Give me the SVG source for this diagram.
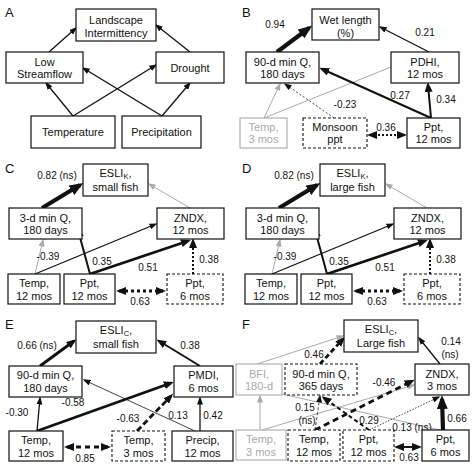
<svg xmlns="http://www.w3.org/2000/svg" width="474" height="468" viewBox="0 0 474 468">
<style>
text{font-family:"Liberation Sans",Arial,sans-serif;fill:#111}
.n{font-size:11px;text-anchor:middle}
.l{font-size:10px;text-anchor:middle}
.p{font-size:13px}
.sub{font-size:7.5px}
.b{fill:#fff;stroke:#111;stroke-width:1.2}
.bd{fill:#fff;stroke:#111;stroke-width:1.1;stroke-dasharray:3 2}
.bg{fill:#fff;stroke:#aaa;stroke-width:1.1}
.g text,text.g{fill:#aaa}
.c{fill:none;stroke:#111;stroke-width:1.3}
.c1{stroke-width:0.8}
.c2{stroke-width:2}
.c3{stroke-width:2.8}
.c4{stroke-width:4.2}
.cg{fill:none;stroke:#aaa;stroke-width:1}
.dot{stroke-dasharray:2 2}
.s{marker-end:url(#s)}
.m{marker-end:url(#m)}
.L{marker-end:url(#L)}
.gs{marker-end:url(#gs)}
</style>
<defs>
<marker id="s" viewBox="0 0 8 6" refX="6.5" refY="3" markerWidth="8" markerHeight="6" markerUnits="userSpaceOnUse" orient="auto-start-reverse"><path d="M0,0L8,3L0,6z" fill="#111"/></marker>
<marker id="m" viewBox="0 0 10 8" refX="7" refY="4" markerWidth="10" markerHeight="8" markerUnits="userSpaceOnUse" orient="auto-start-reverse"><path d="M0,0L10,4L0,8z" fill="#111"/></marker>
<marker id="L" viewBox="0 0 14 11" refX="10" refY="5.5" markerWidth="14" markerHeight="11" markerUnits="userSpaceOnUse" orient="auto-start-reverse"><path d="M0,0L14,5.5L0,11z" fill="#111"/></marker>
<marker id="gs" viewBox="0 0 8 6" refX="6.5" refY="3" markerWidth="8" markerHeight="6" markerUnits="userSpaceOnUse" orient="auto-start-reverse"><path d="M0,0L8,3L0,6z" fill="#aaa"/></marker>
</defs>
<rect width="474" height="468" fill="#fff"/>

<!-- Panel A -->
<g id="panelA">
<text class="p" x="5" y="17">A</text>
<g id="connectorsA">
<line class="c s" x1="49" y1="52" x2="76" y2="28"/>
<line class="c s" x1="190" y1="52" x2="156" y2="25"/>
<line class="c s" x1="73" y1="116" x2="46" y2="83"/>
<line class="c s" x1="73" y1="116" x2="156" y2="65"/>
<line class="c s" x1="162" y1="116" x2="83" y2="68"/>
<line class="c s" x1="162" y1="116" x2="190" y2="83"/>
</g>
<g id="A-landscape"><rect class="b" x="76" y="9" width="80" height="32"/><text class="n" x="116" y="24">Landscape</text><text class="n" x="116" y="37">Intermittency</text></g>
<g id="A-lowflow"><rect class="b" x="6" y="52" width="77" height="31"/><text class="n" x="44.5" y="66">Low</text><text class="n" x="44.5" y="78">Streamflow</text></g>
<g id="A-drought"><rect class="b" x="156" y="52" width="68" height="31"/><text class="n" x="190" y="72">Drought</text></g>
<g id="A-temp"><rect class="b" x="31" y="116" width="84" height="32"/><text class="n" x="73" y="136">Temperature</text></g>
<g id="A-precip"><rect class="b" x="122" y="116" width="79" height="32"/><text class="n" x="161.5" y="136">Precipitation</text></g>
</g>

<!-- Panel B -->
<g id="panelB">
<text class="p" x="242" y="17">B</text>
<g id="connectorsB">
<line class="c c4 L" x1="277" y1="52" x2="309" y2="28"/>
<line class="c s" x1="429" y1="52" x2="380" y2="27"/>
<line class="cg" x1="264" y1="118" x2="391" y2="67"/>
<line class="cg gs" x1="264" y1="118" x2="280" y2="84"/>
<line class="c c1 dot s" x1="334" y1="118" x2="285" y2="84"/>
<line class="c c2 m" x1="431" y1="118" x2="322" y2="69"/>
<line class="c c2 m" x1="431" y1="118" x2="428" y2="85"/>
<line class="c c2 dot m" x1="370" y1="135" x2="404" y2="135" style="marker-start:url(#m)"/>
<text class="l" x="275" y="28">0.94</text>
<text class="l" x="425" y="36">0.21</text>
<text class="l" x="345" y="108">-0.23</text>
<text class="l" x="400" y="99">0.27</text>
<text class="l" x="446" y="103">0.34</text>
<text class="l" x="386" y="131">0.36</text>
</g>
<g id="B-wet"><rect class="b" x="312" y="9" width="67" height="31"/><text class="n" x="345.5" y="24">Wet length</text><text class="n" x="345.5" y="37">(%)</text></g>
<g id="B-q90"><rect class="b" x="246" y="52" width="73" height="31"/><text class="n" x="282.5" y="66">90-d min Q,</text><text class="n" x="282.5" y="78">180 days</text></g>
<g id="B-pdhi"><rect class="b" x="391" y="52" width="68" height="31"/><text class="n" x="425" y="66">PDHI,</text><text class="n" x="425" y="78">12 mos</text></g>
<g id="B-temp3" class="g"><rect class="bg" x="240" y="118" width="47" height="30"/><text class="n" x="263.5" y="131">Temp,</text><text class="n" x="263.5" y="143">3 mos</text></g>
<g id="B-monsoon"><rect class="bd" x="303" y="118" width="64" height="30"/><text class="n" x="335" y="131">Monsoon</text><text class="n" x="335" y="143">ppt</text></g>
<g id="B-ppt12"><rect class="b" x="407" y="118" width="53" height="30"/><text class="n" x="433.5" y="131">Ppt,</text><text class="n" x="433.5" y="143">12 mos</text></g>
</g>

<!-- Panel C -->
<g id="panelC">
<text class="p" x="5" y="173">C</text>
<g id="connectorsC">
<line class="c c4 L" x1="42" y1="208" x2="80" y2="185"/>
<line class="cg gs" x1="190" y1="208" x2="149" y2="184"/>
<line class="cg gs" x1="35" y1="274" x2="43" y2="240"/>
<line class="c s" x1="35" y1="274" x2="156" y2="224"/>
<line class="c c2 m" x1="90" y1="274" x2="78" y2="230"/>
<line class="c c3 m" x1="90" y1="274" x2="188" y2="241"/>
<line class="c c2 dot m" x1="193" y1="274" x2="193" y2="241"/>
<line class="c c3 m" x1="119" y1="291" x2="163" y2="291" style="stroke-dasharray:3 3;marker-start:url(#m)"/>
<text class="l" x="57" y="179">0.82 (ns)</text>
<text class="l" x="48" y="260">-0.39</text>
<text class="l" x="102" y="265">0.35</text>
<text class="l" x="148" y="271">0.51</text>
<text class="l" x="209" y="263">0.38</text>
<text class="l" x="140" y="305">0.63</text>
</g>
<g id="C-esli"><rect class="b" x="83" y="164" width="65" height="32"/><text class="n" x="115.5" y="177">ESLI<tspan class="sub" dy="2">K</tspan><tspan dy="-2">,</tspan></text><text class="n" x="115.5" y="191">small fish</text></g>
<g id="C-q3"><rect class="b" x="9" y="208" width="73" height="31"/><text class="n" x="45.5" y="222">3-d min Q,</text><text class="n" x="45.5" y="234">180 days</text></g>
<g id="C-zndx"><rect class="b" x="157" y="208" width="67" height="31"/><text class="n" x="190.5" y="222">ZNDX,</text><text class="n" x="190.5" y="234">12 mos</text></g>
<g id="C-temp12"><rect class="b" x="8" y="274" width="52" height="30"/><text class="n" x="34" y="287">Temp,</text><text class="n" x="34" y="300">12 mos</text></g>
<g id="C-ppt12"><rect class="b" x="64" y="274" width="51" height="30"/><text class="n" x="89.5" y="287">Ppt,</text><text class="n" x="89.5" y="300">12 mos</text></g>
<g id="C-ppt6"><rect class="bd" x="167" y="274" width="56" height="30"/><text class="n" x="195" y="287">Ppt,</text><text class="n" x="195" y="300">6 mos</text></g>
</g>

<!-- Panel D -->
<g id="panelD" transform="translate(237,0)">
<text class="p" x="5" y="173">D</text>
<g id="connectorsD">
<line class="c c4 L" x1="42" y1="208" x2="80" y2="185"/>
<line class="cg gs" x1="190" y1="208" x2="149" y2="184"/>
<line class="cg gs" x1="35" y1="274" x2="43" y2="240"/>
<line class="c s" x1="35" y1="274" x2="156" y2="224"/>
<line class="c c2 m" x1="90" y1="274" x2="78" y2="230"/>
<line class="c c3 m" x1="90" y1="274" x2="188" y2="241"/>
<line class="c c2 dot m" x1="193" y1="274" x2="193" y2="241"/>
<line class="c c3 m" x1="119" y1="291" x2="163" y2="291" style="stroke-dasharray:3 3;marker-start:url(#m)"/>
<text class="l" x="57" y="179">0.82 (ns)</text>
<text class="l" x="48" y="260">-0.39</text>
<text class="l" x="102" y="265">0.35</text>
<text class="l" x="148" y="271">0.51</text>
<text class="l" x="209" y="263">0.38</text>
<text class="l" x="140" y="305">0.63</text>
</g>
<g id="D-esli"><rect class="b" x="83" y="164" width="65" height="32"/><text class="n" x="115.5" y="177">ESLI<tspan class="sub" dy="2">K</tspan><tspan dy="-2">,</tspan></text><text class="n" x="115.5" y="191">large fish</text></g>
<g id="D-q3"><rect class="b" x="9" y="208" width="73" height="31"/><text class="n" x="45.5" y="222">3-d min Q,</text><text class="n" x="45.5" y="234">180 days</text></g>
<g id="D-zndx"><rect class="b" x="157" y="208" width="67" height="31"/><text class="n" x="190.5" y="222">ZNDX,</text><text class="n" x="190.5" y="234">12 mos</text></g>
<g id="D-temp12"><rect class="b" x="8" y="274" width="52" height="30"/><text class="n" x="34" y="287">Temp,</text><text class="n" x="34" y="300">12 mos</text></g>
<g id="D-ppt12"><rect class="b" x="64" y="274" width="51" height="30"/><text class="n" x="89.5" y="287">Ppt,</text><text class="n" x="89.5" y="300">12 mos</text></g>
<g id="D-ppt6"><rect class="bd" x="167" y="274" width="56" height="30"/><text class="n" x="195" y="287">Ppt,</text><text class="n" x="195" y="300">6 mos</text></g>
</g>

<!-- Panel E -->
<g id="panelE">
<text class="p" x="5" y="329">E</text>
<g id="connectorsE">
<line class="c c3 m" x1="40" y1="366" x2="74" y2="341"/>
<line class="c c2 m" x1="200" y1="366" x2="159" y2="341"/>
<line class="c s" x1="37" y1="431" x2="40" y2="398"/>
<line class="c c3 m" x1="37" y1="431" x2="171" y2="383"/>
<line class="c c3 m" x1="137" y1="431" x2="171" y2="396" style="stroke-dasharray:6 3"/>
<line class="c c1 s" x1="195" y1="431" x2="84" y2="380"/>
<line class="c s" x1="200" y1="431" x2="200" y2="398"/>
<line class="c c3 m" x1="67" y1="447" x2="108" y2="447" style="stroke-dasharray:5 4;marker-start:url(#m)"/>
<text class="l" x="37" y="349">0.66 (ns)</text>
<text class="l" x="190" y="349">0.38</text>
<text class="l" x="17" y="416">-0.30</text>
<text class="l" x="73" y="406">-0.58</text>
<text class="l" x="128" y="422">-0.63</text>
<text class="l" x="178" y="419">0.13</text>
<text class="l" x="213" y="419">0.42</text>
<text class="l" x="85" y="462">0.85</text>
</g>
<g id="E-esli"><rect class="b" x="76" y="321" width="80" height="32"/><text class="n" x="116" y="334">ESLI<tspan class="sub" dy="2">C</tspan><tspan dy="-2">,</tspan></text><text class="n" x="116" y="348">small fish</text></g>
<g id="E-q90"><rect class="b" x="9" y="366" width="73" height="31"/><text class="n" x="45.5" y="379">90-d min Q,</text><text class="n" x="45.5" y="392">180 days</text></g>
<g id="E-pmdi"><rect class="b" x="174" y="366" width="59" height="31"/><text class="n" x="203.5" y="379">PMDI,</text><text class="n" x="203.5" y="392">6 mos</text></g>
<g id="E-temp12"><rect class="b" x="9" y="431" width="54" height="30"/><text class="n" x="36" y="444">Temp,</text><text class="n" x="36" y="457">12 mos</text></g>
<g id="E-temp3"><rect class="bd" x="112" y="431" width="53" height="30"/><text class="n" x="138.5" y="444">Temp,</text><text class="n" x="138.5" y="457">3 mos</text></g>
<g id="E-precip12"><rect class="b" x="172" y="431" width="61" height="30"/><text class="n" x="202.5" y="444">Precip,</text><text class="n" x="202.5" y="457">12 mos</text></g>
</g>

<!-- Panel F -->
<g id="panelF">
<text class="p" x="242" y="329">F</text>
<g id="connectorsF">
<line class="cg gs" x1="257" y1="364" x2="343" y2="336"/>
<line class="cg gs" x1="260" y1="430" x2="260" y2="396"/>
<line class="cg gs" x1="262" y1="430" x2="414" y2="385"/>
<line class="cg" x1="440" y1="430" x2="282" y2="394"/>
<line class="c c3 m" x1="320" y1="364" x2="343" y2="339" style="stroke-dasharray:5 3"/>
<line class="c s" x1="440" y1="364" x2="419" y2="338"/>
<line class="c c3 m" x1="315" y1="430" x2="412" y2="381" style="stroke-dasharray:6 4"/>
<line class="c c1 s" x1="315" y1="430" x2="320" y2="396" style="stroke-dasharray:3 2"/>
<line class="c c2 m" x1="369" y1="430" x2="324" y2="398" style="stroke-dasharray:4 3"/>
<line class="c c1 s" x1="369" y1="430" x2="439" y2="397" style="stroke-dasharray:1.5 1.5"/>
<line class="c c4 L" x1="443" y1="430" x2="442" y2="399"/>
<line class="c c2 m" x1="397" y1="447" x2="419" y2="447" style="marker-start:url(#m)"/>
<text class="l" x="314" y="358">0.46</text>
<text class="l" x="451" y="345">0.14</text>
<text class="l" x="450" y="358">(ns)</text>
<text class="l" x="384" y="386">-0.46</text>
<text class="l" x="305" y="411">0.15</text>
<text class="l" x="307" y="424">(ns)</text>
<text class="l" x="369" y="424">0.29</text>
<text class="l" x="412" y="431">0.13 (ns)</text>
<text class="l" x="457" y="422">0.66</text>
<text class="l" x="409" y="461">0.63</text>
</g>
<g id="F-esli"><rect class="b" x="344" y="320" width="74" height="32"/><text class="n" x="381" y="333">ESLI<tspan class="sub" dy="2">C</tspan><tspan dy="-2">,</tspan></text><text class="n" x="381" y="347">Large fish</text></g>
<g id="F-bfi" class="g"><rect class="bg" x="236" y="364" width="46" height="31"/><text class="n" x="259" y="378">BFI,</text><text class="n" x="259" y="390">180-d</text></g>
<g id="F-q90"><rect class="bd" x="285" y="364" width="72" height="31"/><text class="n" x="321" y="378">90-d min Q,</text><text class="n" x="321" y="390">365 days</text></g>
<g id="F-zndx"><rect class="b" x="415" y="364" width="54" height="31"/><text class="n" x="442" y="378">ZNDX,</text><text class="n" x="442" y="390">3 mos</text></g>
<g id="F-temp3" class="g"><rect class="bg" x="236" y="430" width="50" height="30"/><text class="n" x="261" y="443">Temp,</text><text class="n" x="261" y="456">3 mos</text></g>
<g id="F-temp12"><rect class="bd" x="288" y="430" width="52" height="31"/><text class="n" x="314" y="443">Temp,</text><text class="n" x="314" y="456">12 mos</text></g>
<g id="F-ppt12"><rect class="bd" x="343" y="430" width="51" height="31"/><text class="n" x="368.5" y="443">Ppt,</text><text class="n" x="368.5" y="456">12 mos</text></g>
<g id="F-ppt6"><rect class="b" x="422" y="430" width="47" height="31"/><text class="n" x="445.5" y="443">Ppt,</text><text class="n" x="445.5" y="456">6 mos</text></g>
</g>
</svg>
